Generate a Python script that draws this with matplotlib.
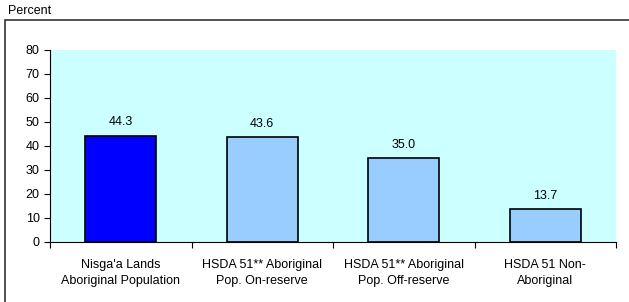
import matplotlib.pyplot as plt
from matplotlib.patches import Rectangle

categories = ["Nisga'a Lands\nAboriginal Population",
              "HSDA 51** Aboriginal\nPop. On-reserve",
              "HSDA 51** Aboriginal\nPop. Off-reserve",
              "HSDA 51 Non-\nAboriginal"]
values = [44.3, 43.6, 35.0, 13.7]
colors = ["#0000FF", "#99CCFF", "#99CCFF", "#99CCFF"]
yticks = [0, 10, 20, 30, 40, 50, 60, 70, 80]

plt.rcParams["font.family"] = ["Liberation Sans", "DejaVu Sans"]
plt.rcParams["font.size"] = 9

W, H = 629, 302
fig = plt.figure(figsize=(W / 100, H / 100), dpi=100)

# outer frame (left and top edges visible)
fig.patches.append(Rectangle((5 / W, -0.1), 1.2, (H - 20) / H + 0.1,
                             transform=fig.transFigure, fill=False,
                             edgecolor="#333333", linewidth=1.2))
fig.text(8 / W, 1 - 11 / H, "Percent", fontsize=9, va="center", ha="left")

ax = fig.add_axes([50 / W, 1 - 242 / H, (616 - 50) / W, (242 - 50) / H])
ax.set_facecolor("#CCFFFF")

x = list(range(len(values)))
ax.bar(x, values, width=0.5, color=colors, edgecolor="black", linewidth=1.2, zorder=2)
for xi, v in zip(x, values):
    ax.text(xi, v + 3, f"{v:.1f}", ha="center", va="bottom", fontsize=9)

ax.set_xlim(-0.5, len(values) - 0.5)
ax.set_ylim(0, 80)
ax.set_yticks(yticks)
ax.set_xticks([i + 0.5 for i in range(-1, len(values))], minor=False)
ax.set_xticklabels([])
ax.set_xticks(x, minor=True)
ax.set_xticklabels(categories, minor=True, linespacing=1.45)
ax.tick_params(axis="x", which="minor", length=0, pad=12)
ax.tick_params(axis="x", which="major", length=4, direction="out")
ax.tick_params(axis="y", length=4, direction="out")
for s in ["top", "right"]:
    ax.spines[s].set_visible(False)
ax.spines["left"].set_color("black")
ax.spines["bottom"].set_color("black")

fig.savefig("out.png", dpi=100)
